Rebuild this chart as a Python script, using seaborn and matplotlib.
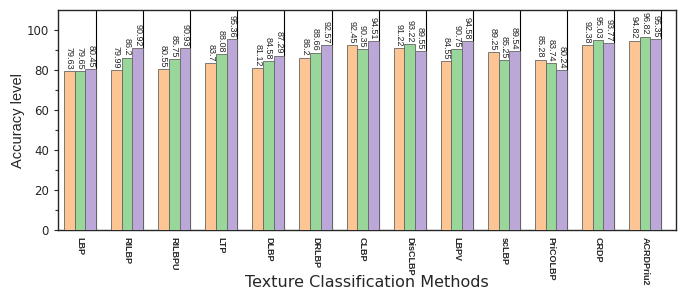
import numpy as np
import pandas as pd
import matplotlib
matplotlib.use("Agg")
import matplotlib.pyplot as plt
import seaborn as sns

## Data
methods = ["LBP", "RILBP", "RILBPU", "LTP", "DLBP", "DRLBP", "CLBP",
           "DisCLBP", "LBPV", "scLBP", "PriCOLBP", "CRDP", "ACRDPriu2"]
series_a = [79.63, 79.99, 80.55, 83.7, 81.12, 86.2, 92.45,
            91.22, 84.55, 89.25, 85.28, 92.38, 94.82]
series_b = [79.65, 86.2, 85.75, 88.08, 84.58, 88.66, 90.35,
            93.22, 90.75, 85.25, 83.74, 95.03, 96.82]
series_c = [80.45, 90.92, 90.93, 95.36, 87.29, 92.57, 94.51,
            89.55, 94.58, 89.54, 80.24, 93.77, 95.35]
series_names = ["A", "B", "C"]
y_ticks = [0, 20, 40, 60, 80, 100]

colors = ["#fdc494", "#99d69a", "#bba8d9"]
bar_width = 0.68
narrow = ["Liberation Sans", "DejaVu Sans"]

df = pd.DataFrame({
    "method": methods * 3,
    "accuracy": series_a + series_b + series_c,
    "series": np.repeat(series_names, len(methods)),
})

sns.set_style("ticks")
plt.rcParams["font.family"] = ["DejaVu Sans"]

fig = plt.figure(figsize=(6.81, 2.91), dpi=100)
ax = fig.add_axes([0.085, 0.21, 0.908, 0.755])

sns.barplot(data=df, x="method", y="accuracy", hue="series", order=methods,
            hue_order=series_names, palette=colors, saturation=1,
            width=bar_width, edgecolor="#666666", linewidth=0.6,
            legend=False, ax=ax, zorder=3)

# separator lines at right edge of each group
for i in range(len(methods)):
    ax.vlines(i + bar_width / 2, 0, 110, color="black", linewidth=0.8, zorder=1)

# value labels
for container in ax.containers:
    for patch in container:
        h = patch.get_height()
        ax.text(patch.get_x() + patch.get_width() / 2, h + 0.8, f"{h:g}",
                rotation=-90, ha="center", va="bottom", fontsize=6.5,
                family=narrow, zorder=4)

ax.set_xlim(-0.47, len(methods) - 0.34)
ax.set_ylim(0, 110)
ax.set_yticks(y_ticks)
ax.set_yticks(np.arange(10, 110, 20), minor=True)
ax.tick_params(axis="y", labelsize=8.5, length=3, width=0.8)
ax.tick_params(axis="y", which="minor", length=2, width=0.8)
ax.tick_params(axis="x", rotation=-90, labelsize=6.5, length=0, pad=5)
for lbl in ax.get_xticklabels():
    lbl.set_family(narrow)
    lbl.set_weight("bold")
    lbl.set_va("top")
    lbl.set_ha("center")

ax.set_xlabel("Texture Classification Methods", fontsize=11.5)
ax.xaxis.set_label_coords(0.5, -0.24)
ax.xaxis.label.set_va("center")
ax.set_ylabel("Accuracy level", fontsize=10.5, family=narrow, labelpad=1)

for s in ax.spines.values():
    s.set_linewidth(1.0)
    s.set_visible(True)

fig.savefig("out.png", dpi=100)
